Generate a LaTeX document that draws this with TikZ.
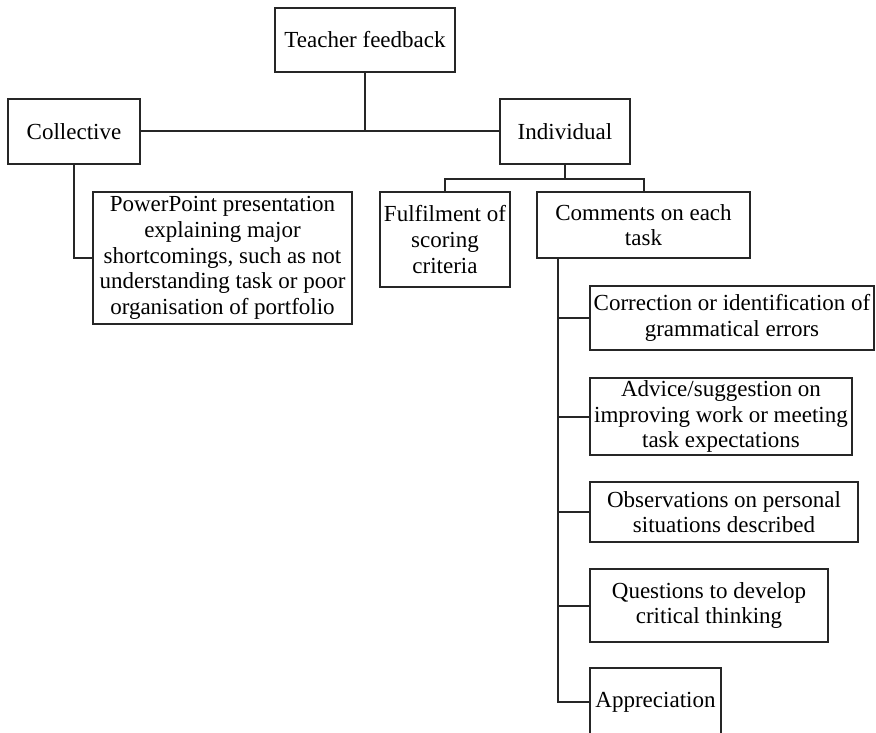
\documentclass[tikz,border=0pt]{standalone}
\usepackage{fontspec}
\setmainfont{Liberation Serif}
\begin{document}
\begin{tikzpicture}[x=1pt,y=-1pt,
  every node/.style={font=\fontsize{23}{25.6}\selectfont},
  box/.style={draw=black!85, line width=2pt, inner sep=0pt, align=center, fill=white},
  link/.style={draw=black!85, line width=2pt}]
\useasboundingbox (0,0) rectangle (876,733);
% top level
\node[box, minimum width=180pt, minimum height=64pt] (tf) at (365,40) {Teacher feedback};
\node[box, minimum width=132pt, minimum height=65pt] (coll) at (74,131.5) {Collective};
\node[box, minimum width=130pt, minimum height=65pt] (ind) at (565,131.5) {Individual};
% second level
\node[box, minimum width=259pt, minimum height=132pt] (ppt) at (222.5,258)
  {PowerPoint presentation\\explaining major\\shortcomings, such as not\\understanding task or poor\\organisation of portfolio};
\node[box, minimum width=130pt, minimum height=95pt] (ful) at (445,239.5) {Fulfilment of\\scoring\\criteria};
\node[box, minimum width=213pt, minimum height=66pt] (com) at (643.5,225) {Comments on each\\task};
% comment types
\node[box, minimum width=284pt, minimum height=64pt] (cor) at (732,318) {Correction or identification of\\grammatical errors};
\node[box, minimum width=262pt, minimum height=77pt] (adv) at (721,416.5) {Advice/suggestion on\\improving work or meeting\\task expectations};
\node[box, minimum width=268pt, minimum height=60pt] (obs) at (724,512) {Observations on personal\\situations described};
\node[box, minimum width=238pt, minimum height=73pt] (que) at (709,605.5) {Questions to develop\\critical thinking};
\node[box, minimum width=131pt, minimum height=68pt] (app) at (655.5,702) {Appreciation};
% connectors
\coordinate (busy) at (0,179);
\coordinate (spx) at (558,258);
\draw[link] (tf.south) -- (tf.south |- coll.east);
\draw[link] (coll.east) -- (ind.west);
\draw[link] (coll.south) |- (ppt.west);
\draw[link] (ind.south) -- (ind.south |- busy);
\draw[link] (ful.north) -- (ful.north |- busy) -| (com.north);
\draw[link] (spx) -- (spx |- app.west) -- (app.west);
\foreach \n in {cor,adv,obs,que}
  \draw[link] (spx |- \n.west) -- (\n.west);
\end{tikzpicture}
\end{document}
